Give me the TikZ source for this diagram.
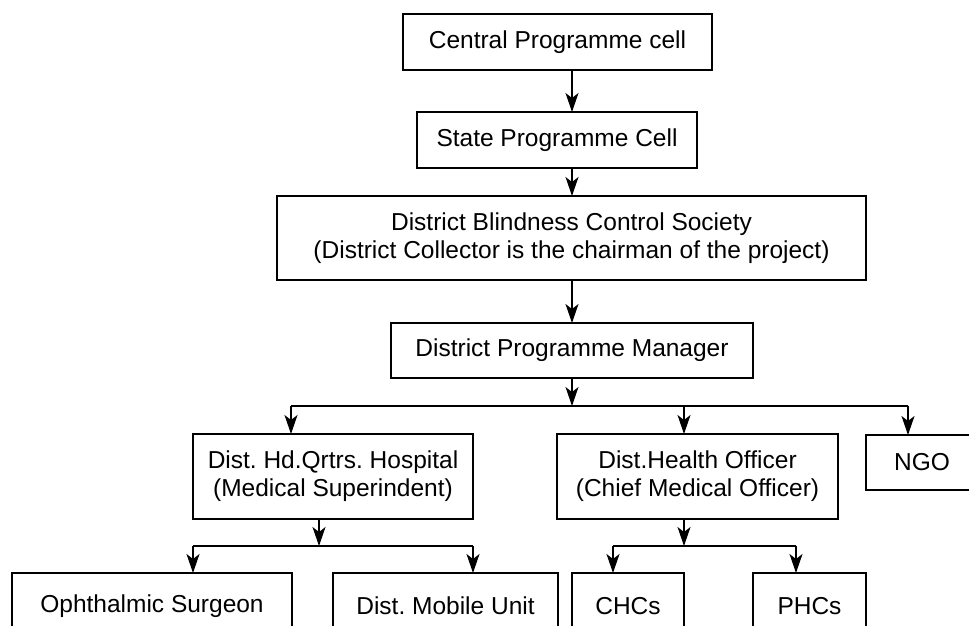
\documentclass[tikz,border=0pt]{standalone}
\usepackage{fontspec}
\setmainfont{Liberation Sans}
\usetikzlibrary{arrows.meta}
\begin{document}
\frenchspacing
\begin{tikzpicture}[x=1pt,y=-1pt,
  box/.style={draw=black,line width=1.2pt,inner sep=0pt,outer sep=0pt,align=center,
    font=\fontsize{24.5}{28}\selectfont},
  topbox/.style={box,line width=1.8pt},
  arr/.style={draw=black,line width=1.2pt,-{Stealth[length=19pt,width=13pt,inset=5pt]}},
  ln/.style={draw=black,line width=1.2pt}]
\useasboundingbox (0,0) rectangle (969,626);
\clip (0,0) rectangle (969,626);
\node[topbox,minimum width=309pt,minimum height=56pt] (central) at (557.5,42) {Central Programme cell};
\node[box,minimum width=280pt,minimum height=56pt] (state) at (557,140) {State Programme Cell};
\node[box,minimum width=589pt,minimum height=84pt] (dbcs) at (571.5,238) {District Blindness Control Society\\(District Collector is the chairman of the project)};
\node[box,minimum width=362pt,minimum height=55pt] (dpm) at (572,350.5) {District Programme Manager};
\node[box,minimum width=280pt,minimum height=85pt] (hosp) at (333,476.5) {Dist. Hd.Qrtrs. Hospital\\(Medical Superindent)};
\node[box,minimum width=281pt,minimum height=85pt] (dho) at (697.5,476.5) {Dist.Health Officer\\(Chief Medical Officer)};
\node[box,minimum width=112pt,minimum height=55pt] (ngo) at (922,462.5) {NGO};
\node[box,minimum width=280pt,minimum height=66pt] (oph) at (152,606) {Ophthalmic Surgeon};
\node[box,minimum width=225pt,minimum height=66pt] (mob) at (445.5,606) {Dist. Mobile Unit};
\node[box,minimum width=112pt,minimum height=66pt] (chc) at (628,606) {CHCs};
\node[box,minimum width=113pt,minimum height=66pt] (phc) at (809.5,606) {PHCs};
% helper coordinates
\coordinate (col) at (572,0);
\coordinate (busA) at (0,406);
\coordinate (busB) at (0,546);
\coordinate (xH) at (291,0);
\coordinate (xD) at (684,0);
\coordinate (xN) at (908,0);
\coordinate (xHs) at (319,0);
\coordinate (xO) at (193,0);
\coordinate (xM) at (473,0);
\coordinate (xC) at (613,0);
\coordinate (xP) at (796,0);
% connectors
\draw[arr] (central.south -| col) -- (state.north -| col);
\draw[arr] (state.south -| col) -- (dbcs.north -| col);
\draw[arr] (dbcs.south -| col) -- (dpm.north -| col);
\draw[arr] (dpm.south -| col) -- (col |- busA);
\draw[ln] (xH |- busA) -- (xN |- busA);
\draw[arr] (xH |- busA) -- (xH |- hosp.north);
\draw[arr] (xD |- busA) -- (xD |- dho.north);
\draw[arr] (xN |- busA) -- (xN |- ngo.north);
\draw[arr] (hosp.south -| xHs) -- (xHs |- busB);
\draw[ln] (xO |- busB) -- (xM |- busB);
\draw[arr] (xO |- busB) -- (xO |- oph.north);
\draw[arr] (xM |- busB) -- (xM |- mob.north);
\draw[arr] (dho.south -| xD) -- (xD |- busB);
\draw[ln] (xC |- busB) -- (xP |- busB);
\draw[arr] (xC |- busB) -- (xC |- chc.north);
\draw[arr] (xP |- busB) -- (xP |- phc.north);
\end{tikzpicture}
\end{document}
